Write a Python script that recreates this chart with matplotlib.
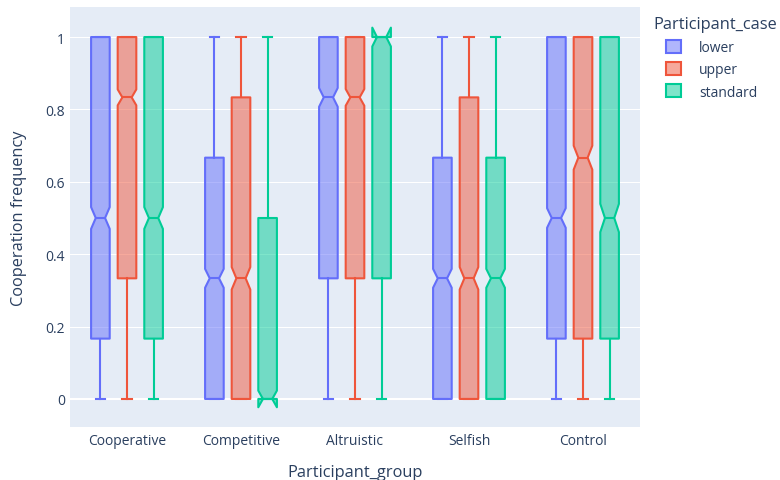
import matplotlib.pyplot as plt
from matplotlib.colors import to_rgba
from matplotlib.patches import Patch

plt.rcParams['font.family'] = ['Open Sans', 'DejaVu Sans']

groups = ["Cooperative", "Competitive", "Altruistic", "Selfish", "Control"]
cases = ["lower", "upper", "standard"]
colors = ["#636EFA", "#EF553B", "#00CC96"]

# quartiles, medians, whisker ends and notch half-widths per case, in group order
q1 = {
    "lower":    [0.1667, 0.0, 0.3333, 0.0, 0.1667],
    "upper":    [0.3333, 0.0, 0.3333, 0.0, 0.1667],
    "standard": [0.1667, 0.0, 0.3333, 0.0, 0.1667],
}
median = {
    "lower":    [0.5, 0.3333, 0.8333, 0.3333, 0.5],
    "upper":    [0.8333, 0.3333, 0.8333, 0.3333, 0.6667],
    "standard": [0.5, 0.0, 1.0, 0.3333, 0.5],
}
q3 = {
    "lower":    [1.0, 0.6667, 1.0, 0.6667, 1.0],
    "upper":    [1.0, 0.8333, 1.0, 0.8333, 1.0],
    "standard": [1.0, 0.5, 1.0, 0.6667, 1.0],
}
whisker_lo = {
    "lower":    [0.0, 0.0, 0.0, 0.0, 0.0],
    "upper":    [0.0, 0.0, 0.0, 0.0, 0.0],
    "standard": [0.0, 0.0, 0.0, 0.0, 0.0],
}
whisker_hi = {
    "lower":    [1.0, 1.0, 1.0, 1.0, 1.0],
    "upper":    [1.0, 1.0, 1.0, 1.0, 1.0],
    "standard": [1.0, 1.0, 1.0, 1.0, 1.0],
}
notch = {
    "lower":    [0.030, 0.026, 0.026, 0.026, 0.027],
    "upper":    [0.022, 0.031, 0.023, 0.031, 0.033],
    "standard": [0.030, 0.023, 0.026, 0.026, 0.039],
}

fig = plt.figure(figsize=(7.8, 4.81), dpi=100)
W, H = 780, 481
ax = fig.add_axes([70 / W, 1 - 428 / H, 570 / W, 420 / H])
ax.set_facecolor("#E5ECF6")

slot = (1 - 0.3) / 3
box_w = slot * (1 - 0.3)
lw = 1.5
text_col = "#2a3f5f"

for k, (case, col) in enumerate(zip(cases, colors)):
    stats = []
    for i in range(len(groups)):
        m = median[case][i]
        stats.append(dict(
            med=m, q1=q1[case][i], q3=q3[case][i],
            whislo=whisker_lo[case][i], whishi=whisker_hi[case][i],
            cilo=m - notch[case][i], cihi=m + notch[case][i], fliers=[],
        ))
    pos = [i + (k - 1) * slot for i in range(len(groups))]
    art = ax.bxp(
        stats, positions=pos, widths=box_w, shownotches=True,
        patch_artist=True, showfliers=False, manage_ticks=False,
        boxprops=dict(edgecolor=col, facecolor=to_rgba(col, 0.5), linewidth=lw),
        medianprops=dict(color=col, linewidth=lw),
        whiskerprops=dict(color=col, linewidth=lw),
        capprops=dict(color=col, linewidth=lw),
    )
    for b in art["boxes"]:
        b.set_joinstyle("round")

ax.set_xlim(-0.5, len(groups) - 0.5)
ax.set_ylim(-0.0775, 1.083)
ax.set_xticks(range(len(groups)))
ax.set_xticklabels(groups)
ax.set_yticks([0, 0.2, 0.4, 0.6, 0.8, 1.0])
ax.set_yticklabels(["0", "0.2", "0.4", "0.6", "0.8", "1"])
ax.grid(axis="y", color="white", linewidth=0.75)
ax.axhline(0, color="white", linewidth=1.5, zorder=0.5)
ax.set_axisbelow(True)
for s in ax.spines.values():
    s.set_visible(False)
ax.tick_params(axis="both", length=0, labelsize=10, colors=text_col)
ax.tick_params(axis="y", pad=3.5)
ax.tick_params(axis="x", pad=4)

ax.set_xlabel("Participant_group", fontsize=11.8, color=text_col, labelpad=12)
ax.set_ylabel("Cooperation frequency", fontsize=11.8, color=text_col, labelpad=13)

# legend: title as its own text, entries indented below it
fig.text(653 / W, 1 - 25 / H, "Participant_case", fontsize=11.8,
         color=text_col, ha="left", va="center")
handles = [Patch(facecolor=to_rgba(c, 0.5), edgecolor=c, linewidth=lw, label=n)
           for n, c in zip(cases, colors)]
leg = fig.legend(handles=handles, loc="upper left",
                 bbox_to_anchor=(662 / W, 1 - 37 / H), frameon=False,
                 fontsize=10, handlelength=1.05, handleheight=1.05,
                 handletextpad=1.3, labelspacing=0.5,
                 borderpad=0.3, borderaxespad=0)
for t in leg.get_texts():
    t.set_color(text_col)

fig.savefig("out.png", dpi=100)
